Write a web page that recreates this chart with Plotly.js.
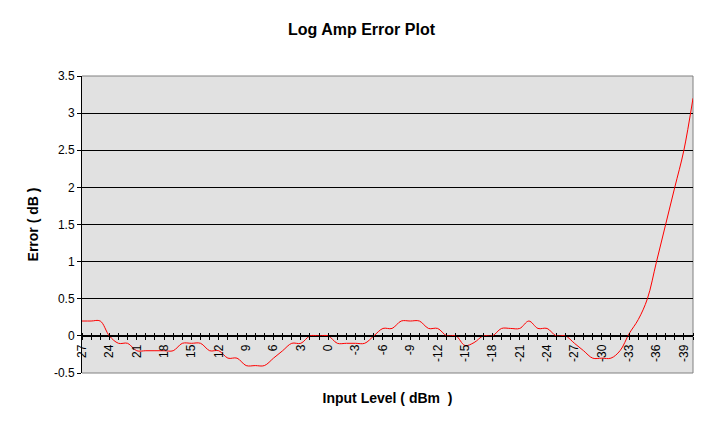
<!DOCTYPE html>
<html>
<head>
<meta charset="utf-8">
<script src="https://cdn.plot.ly/plotly-3.0.1.min.js"></script>
<style>
  html, body { margin: 0; padding: 0; background: #fff; }
  #app { width: 723px; height: 432px; }
</style>
</head>
<body>
<div id="app"></div>
<script>
// input level in dBm, one point per dB
var inputLevel = [27, 26, 25, 24, 23, 22, 21, 20, 19, 18, 17, 16, 15, 14, 13, 12, 11, 10, 9, 8,
  7, 6, 5, 4, 3, 2, 1, 0, -1, -2, -3, -4, -5, -6, -7, -8, -9, -10, -11, -12,
  -13, -14, -15, -16, -17, -18, -19, -20, -21, -22, -23, -24, -25, -26, -27, -28, -29, -30, -31, -32,
  -33, -34, -35, -36, -37, -38, -39, -40]

// log amp error in dB
var errorDb = [0.2, 0.2, 0.2, 0, -0.1, -0.1, -0.2, -0.2, -0.2, -0.2, -0.2, -0.1, -0.1, -0.1, -0.2, -0.2, -0.3, -0.3, -0.4, -0.4,
  -0.4, -0.3, -0.2, -0.1, -0.1, 0, 0, 0, -0.1, -0.1, -0.1, -0.1, 0, 0.1, 0.1, 0.2, 0.2, 0.2, 0.1, 0.1,
  0, 0, -0.13, -0.09, 0, 0, 0.1, 0.1, 0.1, 0.2, 0.1, 0.1, 0, 0, -0.1, -0.2, -0.3, -0.3, -0.3, -0.2,
  0.03, 0.22, 0.5, 1.0, 1.5, 2.0, 2.5, 3.2]

var yTickVals = [-0.5, 0, 0.5, 1, 1.5, 2, 2.5, 3, 3.5]
var yTickLabels = ['-0.5', '0', '0.5', '1', '1.5', '2', '2.5', '3', '3.5']

// only every third level gets a label
var xTickLabels = inputLevel.map(v => (v % 3 === 0 ? String(v) : ''))

var fontFamily = 'Arial, "Liberation Sans", sans-serif'
var zeroPos = 0.125 // y = 0 inside a -0.5..3.5 range

var trace = {
  x: inputLevel,
  y: errorDb,
  type: 'scatter',
  mode: 'lines',
  line: { color: '#ff0000', width: 1, shape: 'spline', smoothing: 1 },
  hoverinfo: 'none',
  showlegend: false
}

// empty trace so the upper half of the crossing ticks (xaxis2) gets drawn
var tickHolder = {
  x: [],
  y: [],
  xaxis: 'x2',
  type: 'scatter',
  mode: 'lines',
  hoverinfo: 'none',
  showlegend: false
}

var layout = {
  width: 723,
  height: 432,
  margin: { l: 82, r: 30, t: 76, b: 59, pad: 0 },
  paper_bgcolor: '#ffffff',
  plot_bgcolor: '#e1e1e1',
  font: { family: fontFamily, size: 12, color: '#000' },
  title: {
    text: 'Log Amp Error Plot',
    font: { family: fontFamily, size: 16, weight: 'bold', color: '#000' },
    xref: 'container',
    x: 0.5,
    yref: 'container',
    y: 0.933,
    yanchor: 'middle'
  },
  xaxis: {
    range: [27, -40],
    anchor: 'free',
    position: zeroPos,
    tickmode: 'array',
    tickvals: inputLevel,
    ticktext: xTickLabels,
    tickangle: -90,
    ticks: 'outside',
    ticklen: 3,
    tickcolor: '#000',
    tickfont: { family: fontFamily, size: 12, color: '#000' },
    showline: true,
    linecolor: '#000',
    linewidth: 1,
    showgrid: false,
    zeroline: false,
    title: {
      text: 'Input Level ( dBm  )',
      font: { family: fontFamily, size: 14, weight: 'bold', color: '#000' },
      standoff: 32
    }
  },
  xaxis2: {
    overlaying: 'x',
    matches: 'x',
    anchor: 'free',
    position: zeroPos,
    side: 'top',
    tickmode: 'array',
    tickvals: inputLevel,
    showticklabels: false,
    ticks: 'outside',
    ticklen: 3,
    tickcolor: '#000',
    showline: false,
    showgrid: false,
    zeroline: false
  },
  yaxis: {
    range: [-0.5, 3.5],
    tickmode: 'array',
    tickvals: yTickVals,
    ticktext: yTickLabels,
    ticks: 'outside',
    ticklen: 4,
    tickcolor: '#000',
    tickfont: { family: fontFamily, size: 12, color: '#000' },
    showline: true,
    linecolor: '#000',
    linewidth: 1,
    showgrid: true,
    gridcolor: '#000',
    gridwidth: 1,
    zeroline: false,
    title: {
      text: 'Error ( dB )',
      font: { family: fontFamily, size: 14, weight: 'bold', color: '#000' },
      standoff: 12
    }
  },
  shapes: [
    { type: 'line', xref: 'paper', yref: 'paper', x0: 0, x1: 1, y0: 1, y1: 1, layer: 'between', line: { color: '#808080', width: 1 } },
    { type: 'line', xref: 'paper', yref: 'paper', x0: 1, x1: 1, y0: 0, y1: 1, layer: 'between', line: { color: '#808080', width: 1 } },
    { type: 'line', xref: 'paper', yref: 'paper', x0: 0, x1: 1, y0: 0, y1: 0, layer: 'between', line: { color: '#808080', width: 1 } }
  ]
}

Plotly.newPlot('app', [trace, tickHolder], layout, { displayModeBar: false })
</script>
</body>
</html>
